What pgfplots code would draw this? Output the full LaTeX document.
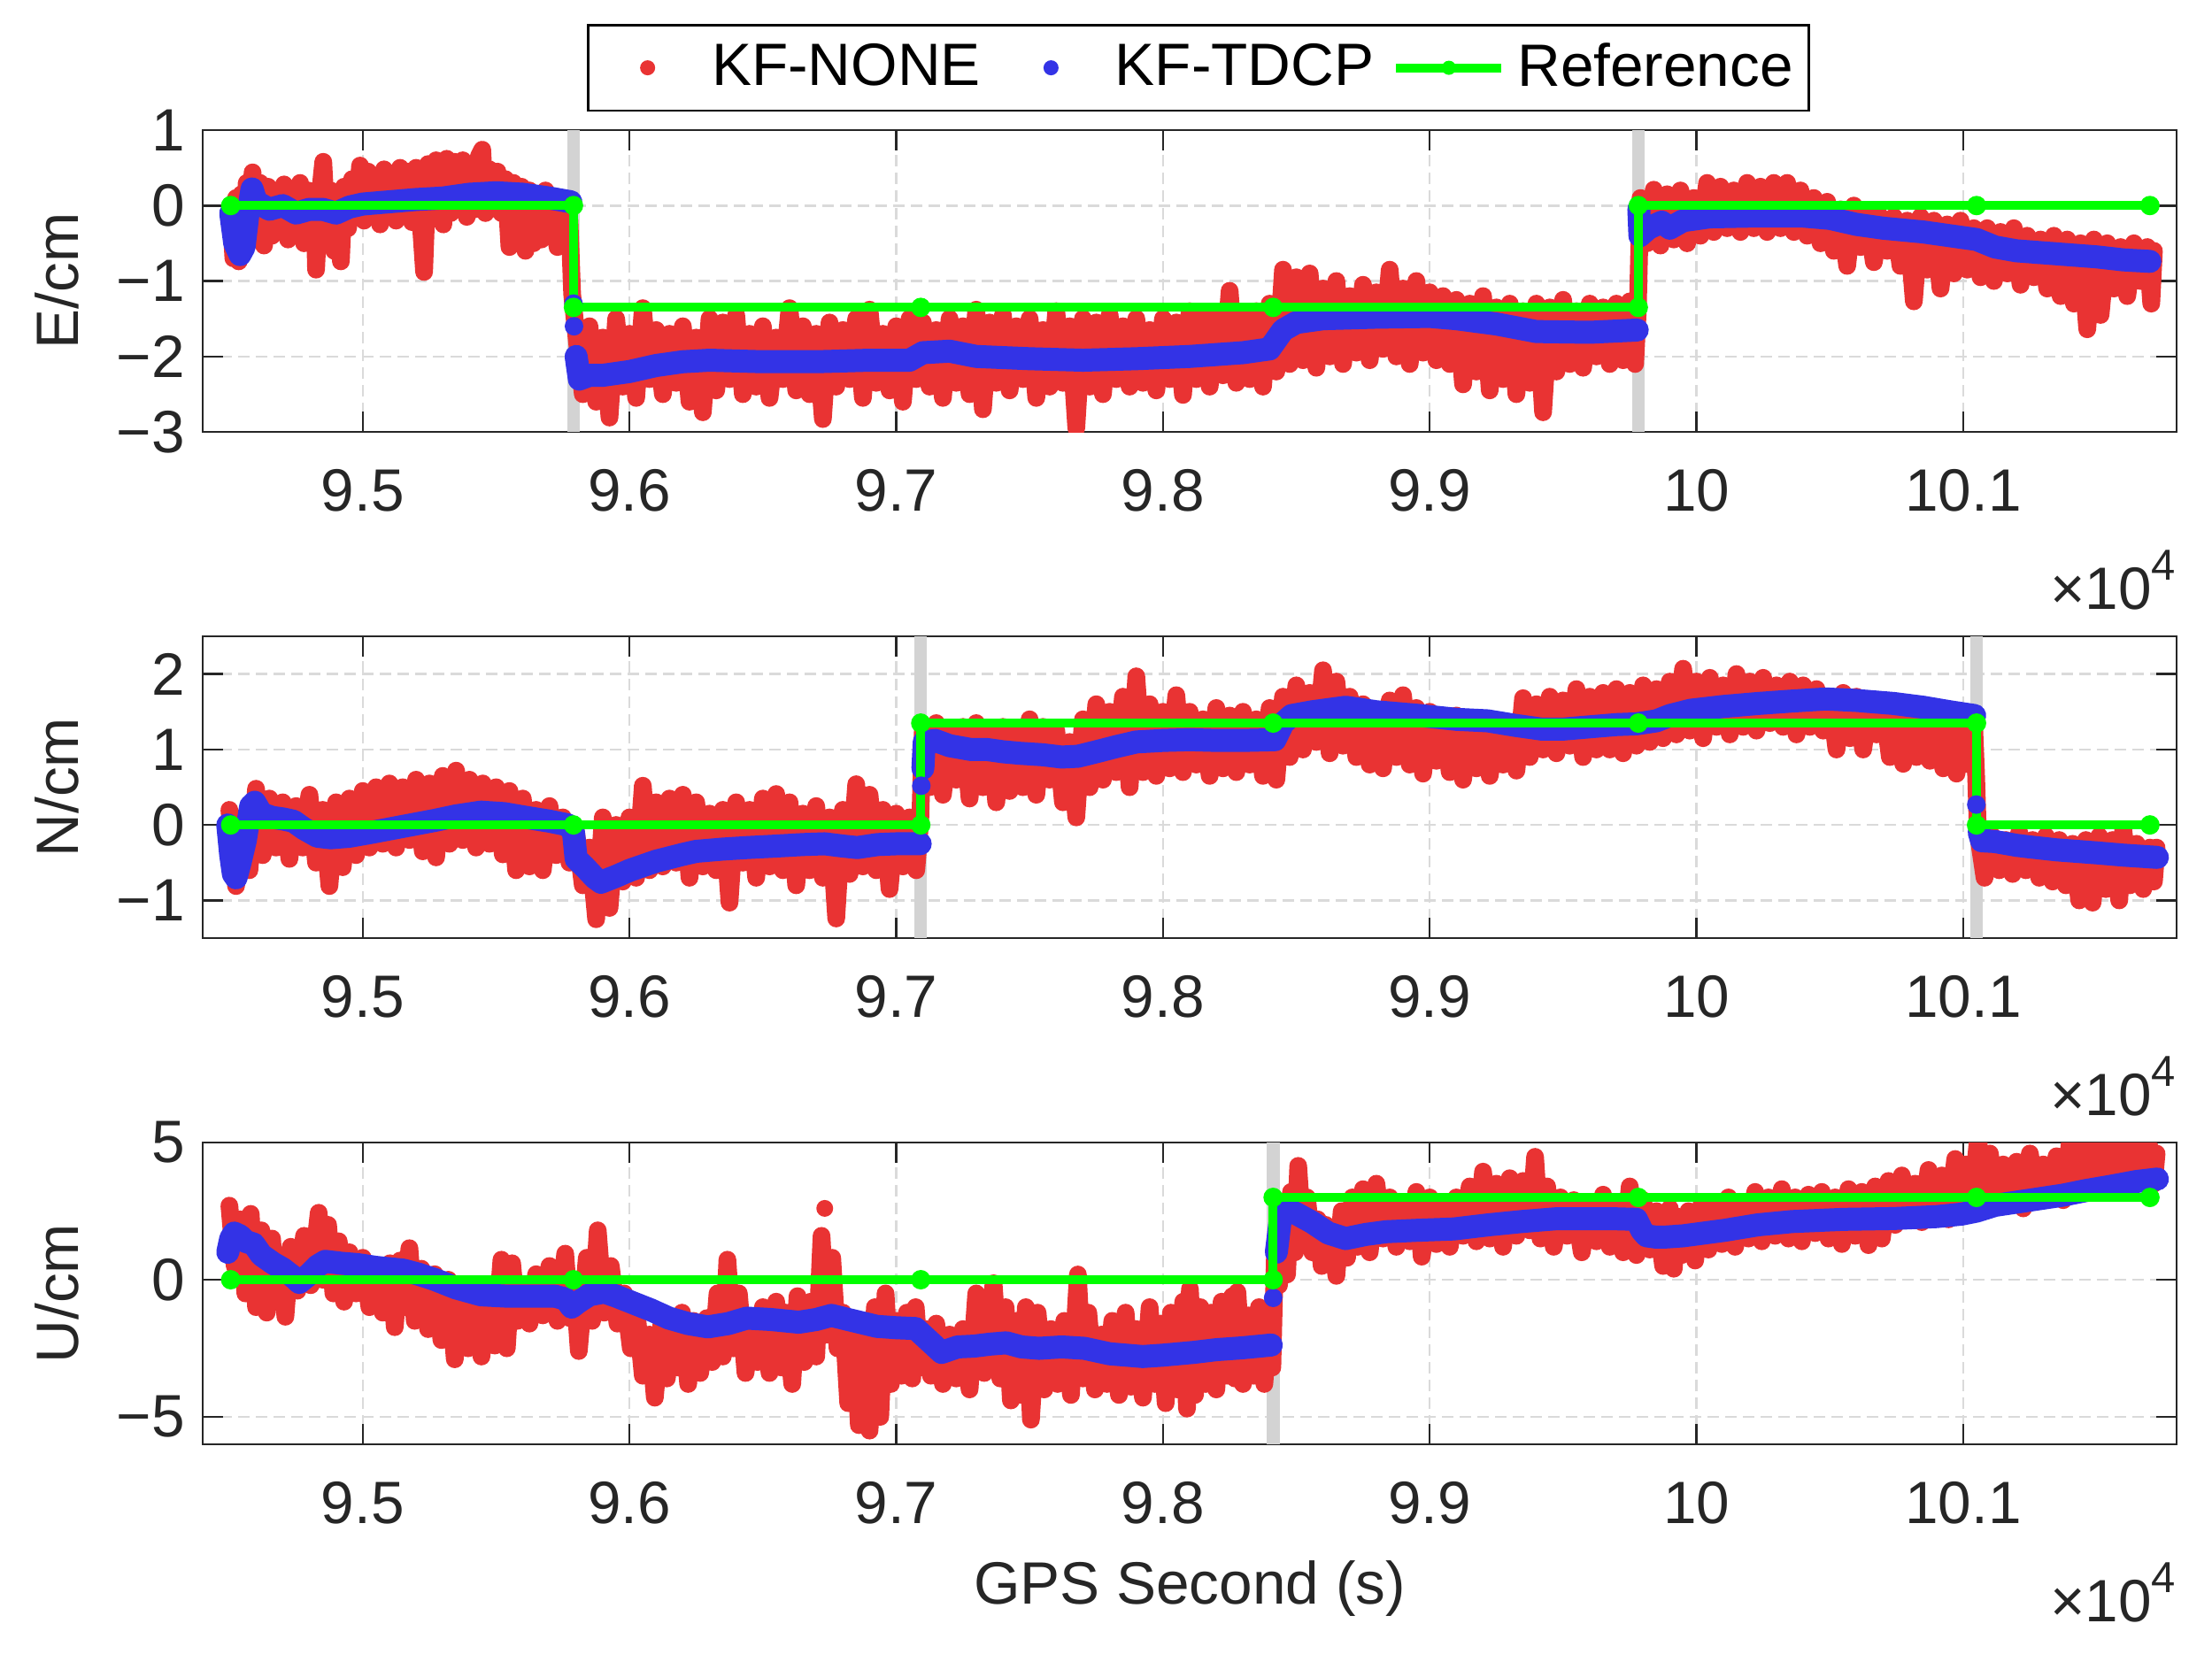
\documentclass[border=0pt]{standalone}
\usepackage{fontspec}
\setmainfont{Liberation Sans}
\usepackage{pgfplots}
\pgfplotsset{compat=1.18}
\definecolor{kfred}{RGB}{233,51,51}
\definecolor{kfblue}{RGB}{51,51,230}
\definecolor{refgreen}{RGB}{0,255,0}
\definecolor{barg}{RGB}{211,211,211}
\definecolor{gridg}{RGB}{218,218,218}
\definecolor{axg}{RGB}{38,38,38}
\newcommand{\tfont}{\fontsize{13.5}{16}\selectfont}
\pgfdeclareplotmark{fdot}{\pgfpathcircle{\pgfpointorigin}{\pgfplotmarksize}\pgfusepathqfill}
\pgfplotsset{
  panel/.style={
    scale only axis, width=446pt, height=68.2pt,
    xmin=94400, xmax=101800,
    xtick={95000,96000,97000,98000,99000,100000,101000},
    xticklabels={9.5,9.6,9.7,9.8,9.9,10,10.1},
    scaled x ticks=false, scaled y ticks=false,
    tick align=inside, major tick length=4.6pt,
    xmajorgrids, ymajorgrids,
    major grid style={gridg, line width=0.5pt, dash pattern=on 2.6pt off 1.4pt},
    axis line style={axg, line width=0.5pt},
    every tick/.style={axg, line width=0.5pt},
    tick label style={font=\tfont, text=axg},
    xticklabel style={yshift=-5pt},
    yticklabel style={xshift=-0.5pt},
    every axis y label/.style={at={(axis description cs:0,0.5)}, xshift=-33pt, anchor=center, rotate=90, font=\tfont, text=axg},
    every axis x label/.style={at={(axis description cs:0.5,0)}, anchor=base, yshift=-36pt, font=\tfont, text=axg},
    unbounded coords=jump,
  },
  redline/.style={kfred, line width=4pt, line join=round, line cap=round, mark=none,
    legend image code/.code={\path[draw=none,fill=none] (0pt,-1pt) rectangle (23.8pt,1pt); \fill[kfred,draw=none] (11.9pt,0pt) circle (1.7pt);}},
  blueline/.style={kfblue, line width=5.2pt, line join=round, line cap=round, mark=none,
    legend image code/.code={\path[draw=none,fill=none] (0pt,-1pt) rectangle (23.8pt,1pt); \fill[kfblue,draw=none] (11.9pt,0pt) circle (1.7pt);}},
  reddots/.style={kfred, only marks, mark=fdot, mark size=1.9pt, forget plot},
  bluedots/.style={kfblue, only marks, mark=fdot, mark size=2.1pt, forget plot},
  refline/.style={refgreen, line width=2pt, mark=fdot, mark size=2.2pt, mark options={fill=refgreen},
    legend image code/.code={\draw[refgreen, line width=2pt] (0pt,0pt) -- (23.8pt,0pt); \fill[refgreen,draw=none] (11.9pt,0pt) circle (1.6pt);}},
  gbar/.style={barg, line width=2.9pt, forget plot},
}
\newcommand{\xpow}{×10\raisebox{6.6pt}{\fontsize{9.8}{10}\selectfont 4}}
\begin{document}
\begin{tikzpicture}
\useasboundingbox (0,0) rectangle (499.8pt,-375.4pt);
% ---------------- Panel 1 (E) ----------------
\begin{axis}[panel, name=ax1, at={(45.8pt,-29.4pt)}, anchor=north west,
  ymin=-3, ymax=1, ytick={-3,-2,-1,0,1}, yticklabels={−3,−2,−1,0,1},
  ylabel={E/cm},
  legend style={at={(0.5,1)}, anchor=south, yshift=4.2pt, xshift=2pt, draw=black, line width=0.5pt, fill=white,
    legend columns=3, font=\tfont, inner xsep=1.5pt, inner ysep=2pt,
    /tikz/every odd column/.append style={column sep=0.6pt},
    /tikz/every even column/.append style={column sep=2pt}},
  legend cell align=left]
\addplot[gbar] coordinates {(95790,-3)(95790,1)};
\addplot[gbar] coordinates {(99782,-3)(99782,1)};
\addplot[redline] coordinates {
(94505,-0.1)(94515,-0.7)(94525,0.1)(94535,-0.74)(94545,0.15)(94555,-0.6)(94565,0.3)(94575,-0.3)(94587,0.44)(94600,-0.45)(94615,0.3)(94630,-0.53)(94645,0.25)(94660,-0.4)(94675,0.2)(94690,-0.3)(94705,0.28)(94720,-0.45)(94735,0.22)(94750,-0.35)(94765,0.3)(94780,-0.5)(94795,0.2)(94810,-0.4)(94818,0.15)(94825,-0.85)(94838,0.1)(94852,0.58)(94865,-0.3)(94880,0.2)(94893,-0.6)(94905,0.15)(94918,-0.74)(94930,0.25)(94945,-0.3)(94960,0.35)(94975,-0.15)(94990,0.53)(95005,-0.2)(95020,0.45)(95035,-0.1)(95050,0.4)(95065,-0.25)(95080,0.48)(95095,-0.15)(95110,0.42)(95125,-0.2)(95140,0.5)(95155,-0.1)(95170,0.45)(95185,-0.22)(95200,0.5)(95215,-0.1)(95230,-0.88)(95245,0.55)(95260,-0.1)(95275,0.6)(95290,-0.05)(95302,-0.25)(95315,0.62)(95330,-0.1)(95345,0.58)(95360,-0.05)(95375,0.6)(95390,-0.15)(95405,0.5)(95420,-0.05)(95435,0.65)(95448,0.74)(95460,-0.1)(95475,0.48)(95490,0.0)(95505,0.45)(95520,-0.1)(95535,0.35)(95550,-0.55)(95565,0.3)(95580,-0.4)(95595,0.25)(95610,-0.6)(95625,0.2)(95640,-0.5)(95655,0.15)(95670,-0.45)(95685,0.2)(95700,-0.4)(95715,0.1)(95730,-0.55)(95745,0.05)(95760,-0.5)(95775,-0.2)(95785,-1.17)
(95800,-1.7)(95825,-2.5)(95850,-1.6)(95875,-2.6)(95900,-1.75)(95925,-2.81)(95950,-1.5)(95975,-2.4)(96000,-1.7)(96025,-2.55)(96050,-1.36)(96075,-2.3)(96100,-1.65)(96125,-2.5)(96150,-1.7)(96175,-2.35)(96200,-1.6)(96225,-2.6)(96250,-1.75)(96275,-2.74)(96300,-1.5)(96325,-2.45)(96350,-1.55)(96375,-2.3)(96400,-1.45)(96425,-2.5)(96450,-1.7)(96475,-2.4)(96500,-1.6)(96525,-2.55)(96550,-1.75)(96575,-2.3)(96600,-1.36)(96625,-2.45)(96650,-1.6)(96675,-2.5)(96700,-1.7)(96725,-2.83)(96750,-1.55)(96775,-2.4)(96800,-1.65)(96825,-2.3)(96850,-1.5)(96875,-2.55)(96900,-1.38)(96925,-2.35)(96950,-1.7)(96975,-2.45)(97000,-1.6)(97025,-2.6)(97050,-1.5)(97075,-2.3)(97100,-1.55)(97125,-2.4)(97150,-1.65)(97175,-2.55)(97200,-1.5)(97225,-2.35)(97250,-1.6)(97275,-2.5)(97300,-1.38)(97325,-2.7)(97350,-1.55)(97375,-2.35)(97400,-1.45)(97425,-2.45)(97450,-1.6)(97475,-2.3)(97500,-1.5)(97525,-2.55)(97550,-1.65)(97575,-2.4)(97600,-1.4)(97625,-2.35)(97650,-1.6)(97675,-2.95)(97700,-1.5)(97725,-2.4)(97750,-1.55)(97775,-2.5)(97800,-1.45)(97825,-2.3)(97850,-1.6)(97875,-2.4)(97900,-1.5)(97925,-2.35)(97950,-1.65)(97975,-2.45)(98000,-1.5)(98025,-2.3)(98050,-1.55)(98075,-2.51)(98100,-1.4)(98125,-2.3)(98150,-1.5)(98175,-2.4)(98200,-1.45)(98225,-2.25)(98250,-1.13)(98275,-2.35)(98300,-1.5)(98325,-2.3)(98350,-1.4)(98375,-2.4)(98400,-1.3)(98425,-2.2)(98450,-0.85)(98475,-2.1)(98500,-0.95)(98525,-2.05)(98550,-0.9)(98575,-2.15)(98600,-1.1)(98625,-2.0)(98650,-1.0)(98675,-2.1)(98700,-1.2)(98725,-1.95)(98750,-1.05)(98775,-2.05)(98800,-1.15)(98825,-1.9)(98850,-0.85)(98875,-2.0)(98900,-1.1)(98925,-2.1)(98950,-1.0)(98975,-1.95)(99000,-1.15)(99025,-2.05)(99050,-1.2)(99075,-2.1)(99100,-1.25)(99125,-2.37)(99150,-1.3)(99175,-2.2)(99200,-1.2)(99225,-2.45)(99250,-1.35)(99275,-2.3)(99300,-1.3)(99325,-2.5)(99350,-1.4)(99375,-2.35)(99400,-1.3)(99425,-2.74)(99450,-1.35)(99475,-2.2)(99500,-1.25)(99525,-2.1)(99550,-1.4)(99575,-2.15)(99600,-1.3)(99625,-2.0)(99650,-1.35)(99675,-2.1)(99700,-1.3)(99725,-2.05)(99750,-1.27)(99770,-2.1)(99780,-1.4)
(99790,0.1)(99815,-0.5)(99840,0.21)(99865,-0.53)(99890,0.15)(99915,-0.45)(99940,0.2)(99965,-0.5)(99990,0.1)(100015,-0.4)(100040,0.3)(100065,-0.35)(100090,0.25)(100115,-0.3)(100140,0.2)(100165,-0.35)(100190,0.3)(100215,-0.3)(100240,0.25)(100265,-0.35)(100290,0.3)(100315,-0.3)(100340,0.3)(100365,-0.35)(100390,0.2)(100415,-0.4)(100440,0.1)(100465,-0.5)(100490,0.05)(100515,-0.6)(100540,-0.05)(100565,-0.8)(100590,0.0)(100615,-0.55)(100640,-0.1)(100665,-0.75)(100690,-0.15)(100715,-0.6)(100740,-0.15)(100765,-0.8)(100790,-0.2)(100815,-1.27)(100840,-0.15)(100865,-0.85)(100890,-0.2)(100915,-1.1)(100940,-0.25)(100965,-0.9)(100990,-0.2)(101015,-0.85)(101040,-0.3)(101065,-0.95)(101090,-0.3)(101115,-1.0)(101140,-0.35)(101165,-0.9)(101190,-0.3)(101215,-1.05)(101240,-0.4)(101265,-0.95)(101290,-0.45)(101315,-1.1)(101340,-0.4)(101365,-1.2)(101390,-0.45)(101415,-1.3)(101440,-0.5)(101465,-1.64)(101490,-0.45)(101515,-1.45)(101540,-0.5)(101565,-1.1)(101590,-0.55)(101615,-1.2)(101640,-0.5)(101665,-1.0)(101690,-0.55)(101705,-1.3)(101715,-0.6)
};
\addplot[blueline] coordinates {
(94505,-0.1)(94520,-0.5)(94540,-0.65)(94555,-0.55)(94570,-0.1)(94585,0.22)(94600,0.05)(94650,-0.05)(94700,0.0)(94750,-0.1)(94800,-0.05)(94850,-0.05)(94900,-0.1)(94950,-0.02)(95000,0.02)(95100,0.05)(95200,0.08)(95300,0.1)(95400,0.15)(95500,0.17)(95600,0.15)(95700,0.1)(95780,0.05)
(95790,nan)
(95800,-2.0)(95812,-2.3)(95850,-2.25)(95900,-2.25)(96000,-2.2)(96100,-2.12)(96200,-2.07)(96300,-2.05)(96500,-2.07)(96700,-2.07)(96900,-2.05)(97050,-2.05)(97100,-1.95)(97200,-1.93)(97300,-2.0)(97500,-2.03)(97700,-2.05)(97900,-2.03)(98100,-2.0)(98300,-1.95)(98400,-1.9)(98450,-1.65)(98500,-1.55)(98600,-1.5)(98800,-1.48)(99000,-1.47)(99100,-1.5)(99250,-1.57)(99400,-1.67)(99600,-1.68)(99778,-1.65)
(99780,nan)
(99784,-0.05)(99788,-0.4)(99820,-0.3)(99870,-0.22)(99900,-0.3)(99950,-0.2)(100050,-0.15)(100200,-0.14)(100400,-0.14)(100500,-0.17)(100600,-0.25)(100700,-0.3)(100850,-0.35)(100950,-0.4)(101050,-0.45)(101120,-0.55)(101200,-0.6)(101350,-0.64)(101500,-0.68)(101600,-0.72)(101700,-0.74)
};
\addplot[bluedots] coordinates {(95790,-1.3)(95792,-1.6)};
\addplot[refline] coordinates {(94505,0)(95790,0)(95790,-1.35)(97092,-1.35)(98413,-1.35)(99782,-1.35)(99782,0)(101050,0)(101700,0)};
\legend{KF-NONE,KF-TDCP,Reference}
\end{axis}
\node[anchor=base east, inner sep=0pt, text=axg, font=\tfont] at ([yshift=-40pt]ax1.south east) {\xpow};
% ---------------- Panel 2 (N) ----------------
\begin{axis}[panel, name=ax2, at={(45.8pt,-143.8pt)}, anchor=north west,
  ymin=-1.5, ymax=2.5, ytick={-1,0,1,2}, yticklabels={−1,0,1,2},
  ylabel={N/cm}]
\addplot[gbar] coordinates {(97092,-1.5)(97092,2.5)};
\addplot[gbar] coordinates {(101050,-1.5)(101050,2.5)};
\addplot[redline] coordinates {
(94500,0.2)(94525,-0.81)(94550,0.1)(94575,-0.6)(94600,0.48)(94625,-0.4)(94650,0.35)(94675,-0.3)(94700,0.3)(94725,-0.45)(94750,0.25)(94775,-0.3)(94800,0.4)(94825,-0.5)(94850,0.2)(94875,-0.81)(94900,0.3)(94925,-0.56)(94950,0.35)(94975,-0.4)(95000,0.45)(95025,-0.3)(95050,0.5)(95075,-0.25)(95100,0.55)(95125,-0.3)(95150,0.5)(95175,-0.2)(95200,0.6)(95225,-0.35)(95250,0.55)(95275,-0.43)(95300,0.65)(95325,-0.25)(95350,0.72)(95375,-0.2)(95400,0.6)(95425,-0.3)(95450,0.55)(95475,-0.25)(95500,0.5)(95525,-0.39)(95550,0.45)(95575,-0.6)(95600,0.35)(95625,-0.55)(95650,0.2)(95675,-0.6)(95700,0.25)(95725,-0.4)(95750,0.1)(95775,-0.5)(95800,-0.1)(95825,-0.8)(95850,-0.3)(95875,-1.25)(95900,0.1)(95925,-1.1)(95950,0.0)(95975,-0.75)(96000,0.1)(96025,-0.7)(96050,0.52)(96075,-0.6)(96100,0.3)(96125,-0.55)(96150,0.35)(96175,-0.5)(96200,0.4)(96225,-0.7)(96250,0.3)(96275,-0.55)(96300,0.15)(96325,-0.6)(96350,0.2)(96375,-1.03)(96400,0.3)(96425,-0.5)(96450,0.2)(96475,-0.7)(96500,0.35)(96525,-0.55)(96550,0.41)(96575,-0.6)(96600,0.3)(96625,-0.8)(96650,0.15)(96675,-0.6)(96700,0.25)(96725,-0.7)(96750,0.1)(96775,-1.24)(96800,0.2)(96825,-0.65)(96850,0.54)(96875,-0.55)(96900,0.4)(96925,-0.6)(96950,0.2)(96975,-0.85)(97000,0.15)(97025,-0.55)(97050,0.1)(97075,-0.6)(97090,0.05)
(97100,1.3)(97125,0.5)(97150,1.35)(97175,0.4)(97200,1.2)(97225,0.6)(97250,1.3)(97275,0.35)(97300,1.35)(97325,0.5)(97350,1.25)(97375,0.3)(97400,1.3)(97425,0.45)(97450,1.2)(97475,0.5)(97500,1.4)(97525,0.4)(97550,1.3)(97575,0.6)(97600,1.25)(97625,0.3)(97650,1.1)(97675,0.1)(97700,1.4)(97725,0.5)(97750,1.6)(97775,0.6)(97800,1.5)(97825,0.7)(97850,1.7)(97875,0.5)(97900,1.97)(97925,0.7)(97950,1.6)(97975,0.65)(98000,1.5)(98025,0.75)(98050,1.72)(98075,0.7)(98100,1.5)(98125,0.8)(98150,1.4)(98175,0.65)(98200,1.55)(98225,0.75)(98250,1.45)(98275,0.7)(98300,1.5)(98325,0.8)(98350,1.4)(98375,0.65)(98400,1.55)(98425,0.6)(98450,1.7)(98475,0.9)(98500,1.85)(98525,1.0)(98550,1.75)(98575,1.1)(98600,2.05)(98625,0.95)(98650,1.9)(98675,1.05)(98700,1.7)(98725,0.9)(98750,1.6)(98775,0.8)(98800,1.5)(98825,0.75)(98850,1.65)(98875,0.9)(98900,1.72)(98925,0.8)(98950,1.55)(98975,0.68)(99000,1.5)(99025,0.85)(99050,1.4)(99075,0.7)(99100,1.45)(99125,0.6)(99150,1.35)(99175,0.75)(99200,1.4)(99225,0.65)(99250,1.3)(99275,0.8)(99300,1.35)(99325,0.72)(99350,1.68)(99375,0.9)(99400,1.6)(99425,1.0)(99450,1.7)(99475,0.95)(99500,1.65)(99525,1.05)(99550,1.8)(99575,0.9)(99600,1.7)(99625,1.0)(99650,1.75)(99675,1.0)(99700,1.8)(99725,0.95)(99750,1.75)(99775,1.05)(99800,1.85)(99825,1.1)(99850,1.8)(99875,1.15)(99900,1.9)(99925,1.2)(99950,2.07)(99975,1.25)(100000,1.9)(100025,1.15)(100050,1.95)(100075,1.3)(100100,1.85)(100125,1.2)(100150,2.0)(100175,1.3)(100200,1.9)(100225,1.25)(100250,1.95)(100275,1.35)(100300,1.85)(100325,1.3)(100350,1.9)(100375,1.2)(100400,1.85)(100425,1.3)(100450,1.8)(100475,1.25)(100500,1.7)(100525,1.0)(100550,1.75)(100575,1.15)(100600,1.7)(100625,1.0)(100650,1.65)(100675,1.2)(100700,1.6)(100725,0.9)(100750,1.55)(100775,0.81)(100800,1.6)(100825,0.9)(100850,1.5)(100875,0.85)(100900,1.55)(100925,0.75)(100950,1.5)(100975,0.68)(101000,1.45)(101025,0.8)(101040,1.4)(101048,0.7)
(101055,-0.1)(101080,-0.7)(101110,-0.15)(101135,-0.6)(101160,-0.2)(101185,-0.65)(101210,-0.1)(101235,-0.6)(101260,-0.2)(101285,-0.7)(101310,-0.15)(101335,-0.75)(101360,-0.2)(101385,-0.8)(101410,-0.25)(101435,-1.0)(101460,-0.2)(101485,-1.03)(101510,-0.15)(101535,-0.85)(101560,-0.2)(101585,-1.0)(101600,-0.06)(101625,-0.8)(101650,-0.25)(101675,-0.85)(101700,-0.3)(101715,-0.75)(101725,-0.3)
};
\addplot[blueline] coordinates {
(94494,0)(94505,-0.4)(94515,-0.65)(94525,-0.7)(94540,-0.5)(94560,-0.2)(94580,0.25)(94595,0.3)(94620,0.15)(94660,0.1)(94700,0.08)(94740,0.05)(94780,-0.05)(94830,-0.15)(94880,-0.17)(94950,-0.15)(95030,-0.1)(95150,-0.02)(95270,0.06)(95350,0.12)(95443,0.17)(95530,0.15)(95613,0.1)(95700,0.05)(95770,0.0)(95790,-0.1)(95800,-0.45)(95830,-0.55)(95870,-0.7)(95893,-0.76)(95950,-0.68)(96002,-0.6)(96100,-0.48)(96200,-0.39)(96250,-0.35)(96350,-0.32)(96440,-0.3)(96550,-0.28)(96650,-0.26)(96732,-0.25)(96800,-0.28)(96854,-0.3)(96930,-0.26)(97000,-0.25)(97090,-0.25)
(97095,nan)
(97100,0.75)(97105,1.1)(97146,1.12)(97200,1.05)(97280,1.0)(97340,1.0)(97400,0.97)(97462,0.95)(97550,0.93)(97620,0.9)(97681,0.91)(97750,0.97)(97827,1.04)(97900,1.1)(98000,1.12)(98100,1.13)(98200,1.12)(98300,1.12)(98420,1.13)(98450,1.35)(98482,1.45)(98560,1.5)(98685,1.56)(98800,1.5)(98964,1.45)(99100,1.4)(99217,1.38)(99320,1.32)(99420,1.27)(99500,1.27)(99598,1.3)(99700,1.33)(99775,1.34)(99850,1.38)(99900,1.45)(99978,1.52)(100100,1.57)(100232,1.61)(100350,1.64)(100485,1.67)(100600,1.65)(100739,1.61)(100850,1.56)(100950,1.5)(101043,1.45)
(101050,nan)
(101060,-0.1)(101069,-0.21)(101119,-0.22)(101200,-0.27)(101246,-0.29)(101350,-0.33)(101500,-0.37)(101600,-0.4)(101728,-0.43)
};
\addplot[bluedots] coordinates {(97094,0.52)(101049,0.27)};
\addplot[refline] coordinates {(94505,0)(95790,0)(97092,0)(97092,1.35)(98413,1.35)(99782,1.35)(101050,1.35)(101050,0)(101700,0)};
\end{axis}
\node[anchor=base east, inner sep=0pt, text=axg, font=\tfont] at ([yshift=-40pt]ax2.south east) {\xpow};
% ---------------- Panel 3 (U) ----------------
\begin{axis}[panel, name=ax3, at={(45.8pt,-258.2pt)}, anchor=north west,
  ymin=-6, ymax=5, ytick={-5,0,5}, yticklabels={−5,0,5},
  ylabel={U/cm}, xlabel={GPS Second (s)}]
\addplot[gbar] coordinates {(98413,-6)(98413,5)};
\addplot[redline] coordinates {
(94500,2.7)(94520,0.5)(94540,2.2)(94560,-0.5)(94580,2.4)(94600,-1.0)(94620,1.8)(94640,-1.2)(94660,1.5)(94675,-0.6)(94690,0.8)(94710,-1.35)(94730,1.2)(94755,-0.4)(94780,1.6)(94805,-0.2)(94835,2.44)(94850,0.0)(94870,2.0)(94890,-0.5)(94910,1.4)(94930,-0.8)(94950,1.0)(94975,-0.5)(95000,0.8)(95025,-1.0)(95050,0.5)(95075,-1.2)(95102,0.6)(95120,-1.73)(95140,0.7)(95155,-1.0)(95175,1.15)(95195,-1.5)(95220,0.4)(95245,-1.8)(95270,0.2)(95295,-2.2)(95321,0.0)(95345,-2.9)(95370,-0.3)(95395,-2.5)(95420,-0.5)(95445,-2.8)(95470,-0.3)(95495,-2.4)(95520,0.73)(95540,-2.5)(95560,0.6)(95580,-1.5)(95600,-0.2)(95625,-1.6)(95650,0.2)(95675,-1.3)(95700,0.5)(95730,-1.5)(95759,0.95)(95777,-1.4)(95795,-0.5)(95810,-2.6)(95840,0.8)(95860,-1.5)(95881,1.8)(95905,-1.2)(95930,0.5)(95955,-1.6)(95980,-0.5)(96005,-2.5)(96030,-1.5)(96050,-3.5)(96075,-2.0)(96095,-4.3)(96120,-1.6)(96140,-3.6)(96160,-1.8)(96180,-3.2)(96197,-1.2)(96220,-3.8)(96240,-1.5)(96265,-3.4)(96290,-1.4)(96310,-3.0)(96330,-0.5)(96350,-2.8)(96367,0.73)(96390,-2.5)(96410,-0.5)(96435,-3.4)(96460,-1.5)(96480,-3.0)(96500,-1.0)(96525,-3.4)(96550,-0.8)(96570,-3.2)(96586,-1.2)(96610,-3.8)(96630,-0.6)(96655,-3.0)(96680,-0.8)(96700,-2.8)(96720,1.6)(96740,-2.0)(96760,0.8)(96780,-2.5)(96800,-1.2)(96820,-4.5)(96840,-1.8)(96860,-5.3)(96880,-2.0)(96900,-5.5)(96920,-1.0)(96940,-5.0)(96960,-0.5)(96980,-3.8)(97000,-1.5)(97020,-3.5)(97040,-1.2)(97060,-3.6)(97073,-1.0)(97090,-3.2)(97110,-1.8)(97130,-3.5)(97150,-1.6)(97175,-3.8)(97200,-2.0)(97225,-3.6)(97250,-1.8)(97275,-4.0)(97300,-0.5)(97330,-3.4)(97365,-0.13)(97390,-3.6)(97410,-1.0)(97430,-4.4)(97450,-1.5)(97470,-4.2)(97486,-1.0)(97505,-5.1)(97530,-1.2)(97555,-4.0)(97580,-1.8)(97605,-3.8)(97630,-1.5)(97655,-4.2)(97681,0.19)(97700,-3.6)(97720,-1.2)(97745,-4.0)(97770,-2.0)(97790,-3.8)(97810,-1.5)(97835,-4.2)(97860,-1.2)(97880,-3.9)(97900,-1.8)(97925,-4.3)(97950,-1.0)(97970,-3.8)(97990,-1.6)(98010,-4.5)(98030,-1.2)(98055,-4.0)(98076,-0.8)(98090,-4.7)(98101,-0.34)(98120,-4.2)(98140,-1.0)(98160,-3.8)(98180,-1.2)(98200,-4.0)(98220,-0.8)(98240,-3.5)(98260,-0.6)(98270,-3.6)(98279,-0.45)(98300,-3.8)(98320,-1.3)(98340,-3.5)(98360,-1.0)(98380,-3.8)(98400,-1.2)(98410,-3.2)
(98420,1.0)(98435,-0.2)(98450,2.5)(98465,0.19)(98480,3.2)(98495,1.0)(98507,4.15)(98525,1.5)(98540,3.0)(98560,1.0)(98580,2.2)(98595,0.5)(98610,2.0)(98622,0.8)(98634,1.5)(98650,0.14)(98670,2.5)(98690,0.8)(98710,3.0)(98730,1.2)(98750,3.3)(98775,1.0)(98800,3.5)(98825,1.5)(98850,3.0)(98875,1.2)(98900,2.8)(98925,1.4)(98950,3.2)(98970,0.84)(99000,3.0)(99025,1.3)(99050,2.6)(99075,1.2)(99100,3.0)(99125,1.6)(99150,3.4)(99175,1.4)(99200,3.94)(99225,1.5)(99250,3.5)(99275,1.2)(99300,3.7)(99325,1.6)(99350,3.6)(99375,1.8)(99395,4.48)(99415,1.5)(99440,3.4)(99465,1.2)(99490,3.0)(99515,1.6)(99540,2.9)(99570,1.0)(99600,2.8)(99625,1.4)(99650,3.1)(99675,1.2)(99700,2.8)(99725,1.0)(99750,3.4)(99775,0.9)(99800,2.9)(99825,1.1)(99850,2.5)(99875,0.5)(99900,2.6)(99915,0.4)(99928,2.3)(99945,0.9)(99970,2.5)(99995,0.7)(100020,2.8)(100045,1.1)(100070,2.6)(100095,1.3)(100120,3.0)(100145,1.2)(100170,2.8)(100195,1.5)(100220,3.2)(100245,1.4)(100270,3.0)(100295,1.6)(100320,3.3)(100345,1.5)(100370,3.0)(100395,1.4)(100420,3.1)(100445,1.7)(100470,3.2)(100495,1.5)(100520,3.0)(100545,1.3)(100570,3.3)(100595,1.6)(100620,3.2)(100645,1.26)(100670,3.4)(100695,1.5)(100720,3.6)(100745,2.0)(100770,3.8)(100795,2.4)(100820,3.5)(100845,2.1)(100870,4.0)(100895,2.3)(100920,3.8)(100945,2.2)(100970,4.4)(100990,2.5)(101010,4.2)(101030,2.6)(101056,5.2)(101075,2.5)(101100,4.6)(101125,2.7)(101150,4.2)(101175,2.8)(101200,4.3)(101225,2.6)(101250,4.6)(101275,2.9)(101300,4.2)(101325,3.0)(101350,4.5)(101375,2.9)(101400,5.0)(101425,3.1)(101450,5.0)(101475,3.3)(101500,4.8)(101525,3.2)(101550,5.0)(101575,3.4)(101600,4.9)(101625,3.5)(101650,5.0)(101675,3.6)(101700,4.8)(101715,3.5)(101725,4.6)
};
\addplot[reddots] coordinates {(96732,2.6)};
\addplot[blueline] coordinates {
(94494,1.0)(94505,1.5)(94518,1.7)(94540,1.6)(94560,1.4)(94591,1.3)(94620,0.9)(94664,0.6)(94700,0.4)(94740,0.1)(94762,-0.1)(94800,0.2)(94830,0.5)(94859,0.67)(94920,0.6)(94981,0.55)(95050,0.45)(95151,0.35)(95210,0.2)(95272,0.0)(95350,-0.3)(95443,-0.55)(95540,-0.6)(95637,-0.6)(95720,-0.6)(95760,-0.7)(95783,-1.0)(95810,-0.8)(95850,-0.55)(95905,-0.45)(95950,-0.6)(96002,-0.8)(96080,-1.1)(96148,-1.4)(96220,-1.6)(96294,-1.72)(96370,-1.6)(96440,-1.4)(96530,-1.45)(96635,-1.55)(96700,-1.45)(96757,-1.3)(96820,-1.45)(96927,-1.7)(97000,-1.75)(97073,-1.78)(97120,-2.2)(97170,-2.65)(97230,-2.45)(97292,-2.42)(97350,-2.35)(97413,-2.3)(97470,-2.45)(97535,-2.5)(97620,-2.45)(97705,-2.5)(97800,-2.7)(97924,-2.8)(98000,-2.75)(98114,-2.65)(98200,-2.55)(98300,-2.48)(98406,-2.38)
(98413,nan)
(98425,1.0)(98440,2.2)(98456,2.44)(98494,2.44)(98558,2.1)(98620,1.7)(98685,1.5)(98760,1.65)(98837,1.75)(98950,1.8)(99090,1.85)(99220,2.0)(99344,2.12)(99471,2.22)(99600,2.22)(99700,2.22)(99775,2.2)(99795,1.8)(99813,1.6)(99850,1.55)(99877,1.55)(99950,1.6)(100105,1.8)(100230,2.0)(100359,2.12)(100550,2.2)(100739,2.23)(100900,2.3)(100993,2.39)(101050,2.5)(101119,2.71)(101250,2.9)(101373,3.08)(101460,3.25)(101550,3.4)(101650,3.58)(101728,3.67)
};
\addplot[bluedots] coordinates {(98413,-0.66)};
\addplot[refline] coordinates {(94505,0)(95790,0)(97092,0)(98413,0)(98413,3)(99782,3)(101050,3)(101700,3)};
\end{axis}
\node[anchor=base east, inner sep=0pt, text=axg, font=\tfont] at ([yshift=-40pt]ax3.south east) {\xpow};
\end{tikzpicture}
\end{document}
